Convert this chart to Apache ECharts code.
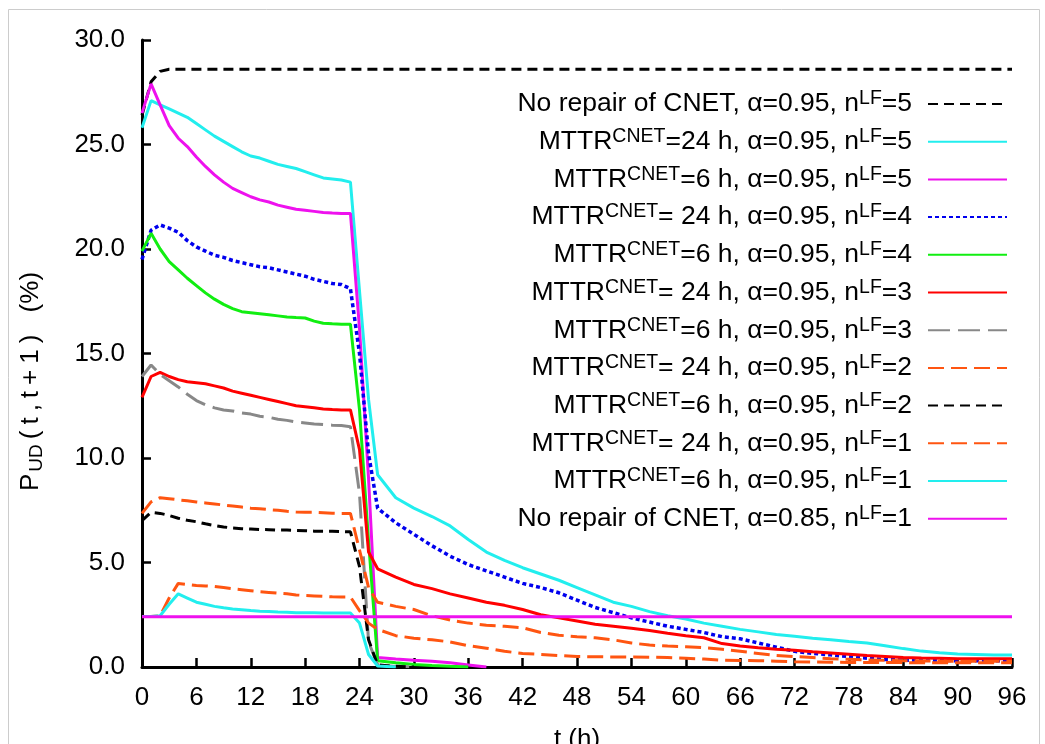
<!DOCTYPE html>
<html><head><meta charset="utf-8">
<script src="https://cdn.jsdelivr.net/npm/echarts@6/dist/echarts.min.js"></script>
<style>html,body{margin:0;padding:0;background:#fff}#c{width:1045px;height:744px}</style>
</head><body><div id="c"></div>
<script>
// time points (h)
const T = [0,1,2,3,4,5,6,7,8,9,10,11,12,13,14,15,16,17,18,19,20,21,22,23,24,25,26,
  28,30,32,34,36,38,40,42,44,46,48,50,52,54,56,58,60,62,64,66,68,70,72,74,76,78,80,82,84,86,88,90,92,94,96];
const xTicks = [0,6,12,18,24,30,36,42,48,54,60,66,72,78,84,90,96];
const yTicks = ['0.0','5.0','10.0','15.0','20.0','25.0','30.0'];

const names = [
  'No repair of CNET, α=0.95, nLF=5',
  'MTTRCNET=24 h, α=0.95, nLF=5',
  'MTTRCNET=6 h, α=0.95, nLF=5',
  'MTTRCNET= 24 h, α=0.95, nLF=4',
  'MTTRCNET=6 h, α=0.95, nLF=4',
  'MTTRCNET= 24 h, α=0.95, nLF=3',
  'MTTRCNET=6 h, α=0.95, nLF=3',
  'MTTRCNET= 24 h, α=0.95, nLF=2',
  'MTTRCNET=6 h, α=0.95, nLF=2',
  'MTTRCNET= 24 h, α=0.95, nLF=1',
  'MTTRCNET=6 h, α=0.95, nLF=1',
  'No repair of CNET, α=0.85, nLF=1'
];

// own time axes for the flat lines
const noRepair5T = [0,1,2,3,96];
const noRepair5 = [26.4,28.0,28.5,28.6,28.6];
const noRepair1T = [0,96];
const noRepair1 = [2.4,2.4];

const mttr24n5 = [25.8,27.1,26.9,26.7,26.5,26.3,26.0,25.7,25.4,25.15,24.9,24.65,24.45,24.35,24.2,24.05,23.95,23.85,23.7,23.55,23.4,23.35,23.3,23.2,18.0,12.8,9.2,
  8.1,7.6,7.2,6.75,6.1,5.5,5.1,4.75,4.45,4.15,3.8,3.45,3.1,2.9,2.65,2.45,2.3,2.1,1.95,1.8,1.68,1.55,1.47,1.38,1.3,1.22,1.15,1.02,0.88,0.76,0.68,0.62,0.6,0.58,0.57];
const mttr6n5 = [26.5,27.9,26.9,25.9,25.3,24.9,24.4,23.95,23.55,23.2,22.9,22.7,22.5,22.35,22.25,22.1,22.0,21.9,21.85,21.8,21.75,21.72,21.7,21.7,16.2,9.0,0.45,
  0.38,0.32,0.27,0.2,0.1,0.0];
const mttr24n4 = [19.5,20.9,21.15,21.0,20.8,20.4,20.1,19.9,19.7,19.6,19.45,19.35,19.25,19.15,19.1,19.0,18.9,18.8,18.7,18.55,18.45,18.35,18.3,18.1,15.0,10.2,7.6,
  6.9,6.35,5.8,5.3,4.9,4.6,4.3,4.0,3.8,3.55,3.2,2.85,2.6,2.35,2.15,1.95,1.8,1.65,1.45,1.35,1.15,0.95,0.75,0.65,0.58,0.5,0.42,0.36,0.33,0.32,0.32,0.3,0.3,0.3,0.3];
const mttr6n4 = [19.9,20.75,20.0,19.4,19.0,18.6,18.25,17.9,17.6,17.35,17.15,17.0,16.95,16.9,16.85,16.8,16.75,16.72,16.7,16.55,16.45,16.42,16.4,16.4,12.3,6.0,0.3,
  0.2,0.12,0.07,0.03,0.0];
const mttr24n3 = [12.9,13.9,14.1,13.9,13.75,13.65,13.6,13.55,13.45,13.35,13.2,13.1,13.0,12.9,12.8,12.7,12.6,12.5,12.45,12.4,12.35,12.32,12.3,12.3,10.4,5.5,4.7,
  4.3,3.95,3.75,3.5,3.3,3.1,2.95,2.75,2.5,2.35,2.2,2.05,1.95,1.85,1.75,1.62,1.5,1.4,1.12,1.0,0.92,0.85,0.8,0.73,0.67,0.61,0.55,0.5,0.45,0.43,0.42,0.4,0.4,0.4,0.4];
const mttr6n3 = [13.9,14.45,14.0,13.7,13.4,13.05,12.75,12.55,12.4,12.3,12.25,12.15,12.1,12.0,11.95,11.85,11.8,11.72,11.68,11.63,11.6,11.57,11.55,11.5,8.3,1.2,0.1,
  0.03,0.0];
const mttr24n2 = [7.35,7.9,8.1,8.05,8.0,7.95,7.9,7.85,7.8,7.75,7.7,7.65,7.6,7.57,7.53,7.5,7.45,7.42,7.4,7.4,7.38,7.36,7.35,7.35,5.6,3.8,3.1,
  2.9,2.75,2.45,2.25,2.1,2.0,1.95,1.88,1.65,1.52,1.45,1.4,1.3,1.15,1.05,1.0,0.97,0.92,0.85,0.75,0.65,0.55,0.5,0.45,0.4,0.37,0.34,0.32,0.3,0.29,0.28,0.28,0.27,0.27,0.27];
const mttr6n2 = [7.0,7.4,7.35,7.25,7.12,7.02,6.95,6.85,6.77,6.7,6.65,6.62,6.6,6.58,6.57,6.55,6.55,6.53,6.52,6.5,6.5,6.5,6.48,6.47,4.8,1.3,0.1,
  0.03,0.0];
const mttr24n1 = [2.42,2.42,2.45,3.3,4.0,3.95,3.9,3.88,3.85,3.8,3.75,3.7,3.65,3.6,3.57,3.53,3.5,3.45,3.42,3.4,3.38,3.36,3.35,3.35,2.7,2.1,1.8,
  1.5,1.38,1.3,1.2,1.02,0.9,0.75,0.65,0.6,0.55,0.5,0.49,0.48,0.48,0.47,0.45,0.42,0.38,0.33,0.31,0.3,0.28,0.25,0.24,0.23,0.22,0.22,0.21,0.21,0.2,0.2,0.2,0.2,0.2,0.2];
const mttr6n1 = [2.42,2.42,2.45,3.0,3.5,3.3,3.1,3.0,2.9,2.83,2.78,2.74,2.7,2.67,2.65,2.63,2.62,2.6,2.6,2.59,2.58,2.58,2.58,2.58,2.1,0.6,0.05,
  0.0];

const FONT = 'Liberation Sans, Arial, sans-serif';

function pairs(ts, vs){ return vs.map((v,i)=>[ts[i], v]); }

const styles = [
  {color:'#000000', type:[10,6], width:3},
  {color:'#22eeee', type:'solid', width:3},
  {color:'#ee11ee', type:'solid', width:3},
  {color:'#0000ee', type:[4,3], width:3.5},
  {color:'#11ee11', type:'solid', width:3},
  {color:'#ff0000', type:'solid', width:3},
  {color:'#888888', type:[22,8], width:3},
  {color:'#ff5511', type:[16,7], width:3},
  {color:'#000000', type:[10,6], width:3},
  {color:'#ff5511', type:[16,7], width:3},
  {color:'#22eeee', type:'solid', width:3},
  {color:'#ee11ee', type:'solid', width:3}
];
const dataSets = [
  pairs(noRepair5T, noRepair5),
  pairs(T, mttr24n5), pairs(T, mttr6n5), pairs(T, mttr24n4), pairs(T, mttr6n4),
  pairs(T, mttr24n3), pairs(T, mttr6n3), pairs(T, mttr24n2), pairs(T, mttr6n2),
  pairs(T, mttr24n1), pairs(T, mttr6n1),
  pairs(noRepair1T, noRepair1)
];

const series = names.map((n,i)=>({
  name:n, type:'line', symbol:'none', showSymbol:false, smooth:false, z: 2 + i,
  lineStyle:{color:styles[i].color, type:styles[i].type, width:styles[i].width},
  itemStyle:{color:styles[i].color},
  data:dataSets[i]
}));

// y-axis title, spaced out like the reference
const yName = 'P{sub|UD}' + '(t,t+1)'.split('').map(c=>'{s|'+c+'}').join('') + '{g| }(%)';

const chart = echarts.init(document.getElementById('c'), null, {renderer:'canvas'});
chart.setOption({
  animation:false,
  backgroundColor:'#fff',
  graphic:[{type:'rect', shape:{x:8.5, y:9.5, width:1031, height:760}, style:{fill:'none', stroke:'#cccccc', lineWidth:1}, z:-10}],
  grid:{left:142, right:33, top:40, bottom:77, containLabel:false, outerBoundsMode:'none'},
  xAxis:{
    type:'value', min:0, max:96, interval:6,
    name:'t (h)', nameLocation:'middle', nameGap:60,
    nameTextStyle:{fontSize:26, color:'#000', fontFamily:FONT},
    axisLine:{show:true, lineStyle:{color:'#000', width:3}},
    axisTick:{show:true, inside:true, length:9, lineStyle:{color:'#000', width:2.5}},
    axisLabel:{fontSize:26, color:'#000', fontFamily:FONT, margin:18, showMinLabel:true, showMaxLabel:true,
      formatter:v=> xTicks.indexOf(v) >= 0 ? String(v) : ''},
    splitLine:{show:false}
  },
  yAxis:{
    type:'value', min:0, max:30, interval:5,
    name:yName, nameLocation:'middle', nameGap:96, nameRotate:90,
    nameTextStyle:{fontSize:26, lineHeight:30, color:'#000', fontFamily:FONT, padding:[0,56,0,0],
      rich:{
        sub:{fontSize:19, lineHeight:13, verticalAlign:'bottom', color:'#000', fontFamily:FONT, padding:[0,2,0,2]},
        s:{fontSize:26, lineHeight:30, color:'#000', fontFamily:FONT, padding:[0,3,0,3]},
        g:{fontSize:26, lineHeight:30, color:'#000', fontFamily:FONT, padding:[0,6,0,6]}
      }},
    axisLine:{show:true, lineStyle:{color:'#000', width:3}},
    axisTick:{show:true, inside:true, length:9, lineStyle:{color:'#000', width:2.5}},
    axisLabel:{fontSize:26, color:'#000', fontFamily:FONT, margin:17,
      formatter:v=> yTicks[Math.round(v/5)]},
    splitLine:{show:false}
  },
  legend:{
    orient:'vertical', right:37, top:89, align:'right', padding:0,
    itemWidth:79, itemHeight:14, itemGap:7.7,
    data:names,
    itemStyle:{opacity:0, borderWidth:0},
    formatter:n=> n.replace('MTTRCNET','MTTR{sup|CNET}').replace('nLF','n{sup|LF}'),
    textStyle:{fontSize:26.5, lineHeight:30, color:'#000', fontFamily:FONT, padding:[0,11,0,0],
      rich:{sup:{fontSize:19.5, lineHeight:10, verticalAlign:'top', color:'#000', fontFamily:FONT}}}
  },
  series:series
});
</script>
</body></html>
